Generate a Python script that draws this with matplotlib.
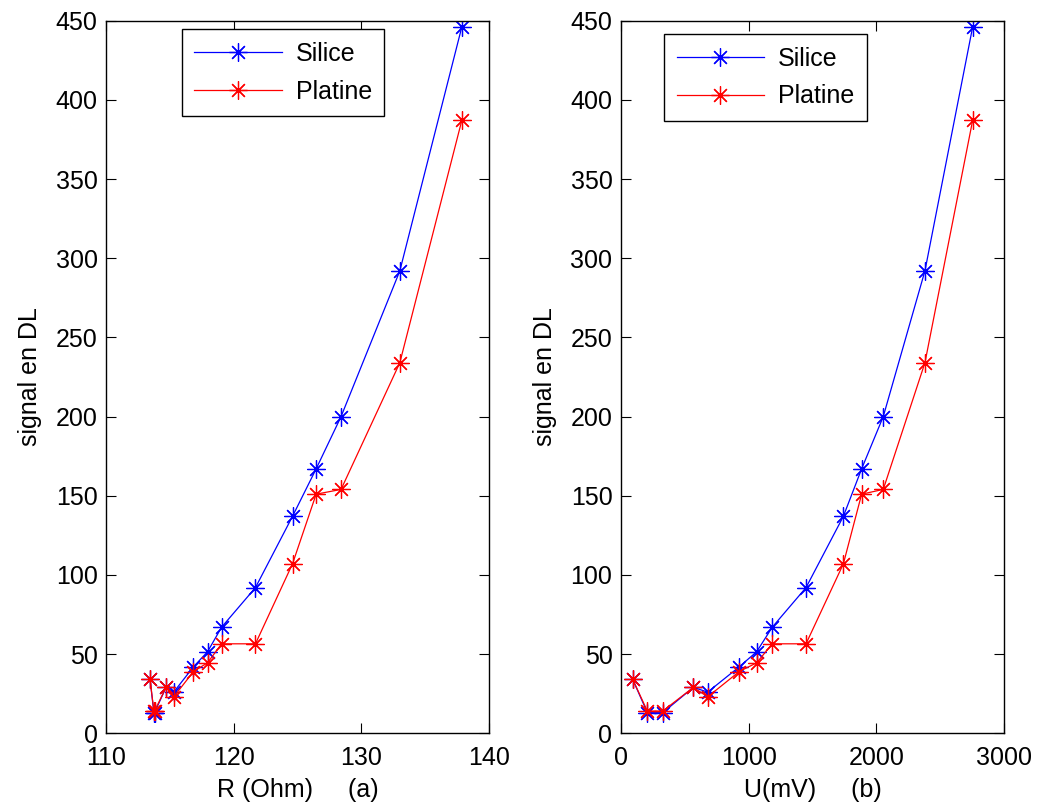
import matplotlib
matplotlib.use("Agg")
import matplotlib.pyplot as plt

plt.rcParams['font.family'] = ['Liberation Sans', 'DejaVu Sans']

# Data
R_ohm = [113.45, 113.75, 113.8, 114.7, 115.3, 116.85, 117.95, 119.05,
         121.7, 124.6, 126.45, 128.4, 133.0, 137.85]
U_mv = [94, 208, 328, 568, 680, 927, 1063, 1185, 1449, 1741, 1884, 2053,
        2379, 2752]
silice = [34, 13, 13, 29, 26, 42, 51.5, 67, 92, 137, 167, 200, 292, 446]
platine = [34, 14, 14, 29, 23, 39, 44.5, 56.5, 56.5, 107, 151, 154, 234, 387]

xlabels = ["R (Ohm)     (a)", "U(mV)     (b)"]
xlims = [(110, 140), (0, 3000)]
xticks = [[110, 120, 130, 140], [0, 1000, 2000, 3000]]
legend_pos = [(0.198, 0.988), (0.113, 0.981)]

star = (8, 2, 0)
fs = 18

fig = plt.figure(figsize=(10.37, 8.09), dpi=100)
ax1 = fig.add_axes([0.1022, 0.0936, 0.3696, 0.8808])
ax2 = fig.add_axes([0.5986, 0.0936, 0.3699, 0.8808])

for ax, x, lab, lim, tks, lpos in zip([ax1, ax2], [R_ohm, U_mv], xlabels,
                                      xlims, xticks, legend_pos):
    ax.plot(x, silice, color='b', lw=0.9, marker=star, ms=13, mew=0.9,
            label='Silice')
    ax.plot(x, platine, color='r', lw=0.9, marker=star, ms=13, mew=0.9,
            label='Platine')
    ax.set_xlim(lim)
    ax.set_ylim(0, 450)
    ax.set_xticks(tks)
    ax.set_yticks(range(0, 451, 50))
    ax.tick_params(direction='in', top=True, right=True, length=7,
                   width=0.8, labelsize=fs)
    ax.tick_params(axis='x', pad=9)
    ax.tick_params(axis='y', pad=6)
    ax.set_xlabel(lab, fontsize=fs, labelpad=6)
    ax.set_ylabel('signal en DL', fontsize=fs, labelpad=10)
    for s in ax.spines.values():
        s.set_linewidth(1.0)
    leg = ax.legend(loc='upper left', bbox_to_anchor=lpos, fontsize=fs,
                    handlelength=3.5, handletextpad=0.55, fancybox=False,
                    framealpha=1, edgecolor='black', borderpad=0.5,
                    labelspacing=0.55, borderaxespad=0)
    leg.get_frame().set_linewidth(1.0)

fig.savefig('out.png', dpi=100, facecolor='white')
